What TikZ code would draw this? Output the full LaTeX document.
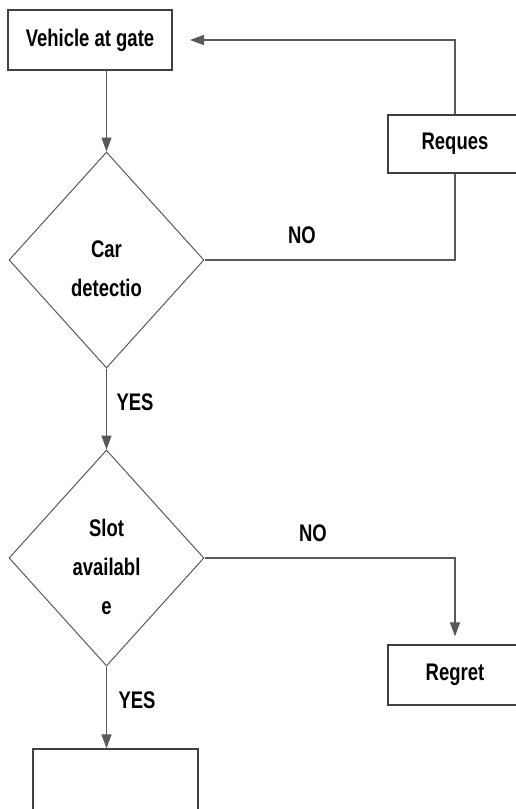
\documentclass[tikz,border=0pt]{standalone}
\usepackage{fontspec}
\setmainfont{Liberation Sans}[FakeStretch=0.77]
\usetikzlibrary{shapes.geometric,arrows.meta}

\begin{document}
\begin{tikzpicture}[x=1pt,y=-1pt,line width=1.3pt,font=\fontsize{24}{39}\selectfont\bfseries]
    %
    % `block' is used for the plain boxes.
    % `decision' is used for the two diamonds.
    % `flow' and `arrow' are used for the connectors.
    \tikzstyle{block} = [draw=black!75,fill=white,inner sep=0pt]
    \tikzstyle{decision} = [draw=black!65,line width=1pt,shape=diamond,minimum width=195pt,minimum height=216pt,inner sep=0pt,align=center]
    \tikzstyle{flow} = [draw=black!65]
    \tikzstyle{arrow} = [flow,-{Triangle[length=14pt,width=10pt]}]
    \tikzstyle{answer} = [inner sep=0pt]
    \useasboundingbox (0,0) rectangle (516,809);
    %
    % Boxes
    \node[block,minimum width=164pt,minimum height=60pt] (gate) at (90,40) {Vehicle at gate};
    \node[block,minimum width=134pt,minimum height=58pt] (request) at (455,144) {Reques};
    \node[block,minimum width=134pt,minimum height=60pt] (regret) at (455,675) {Regret};
    \node[block,minimum width=165pt,minimum height=80pt] (park) at (115.5,789) {};
    %
    % Decisions
    \node[decision] (car) at (106.5,260) {\rule{0pt}{35pt}Car\\detectio};
    \node[decision] (slot) at (106.5,558) {\rule{0pt}{35pt}Slot\\availabl\\e};
    %
    % Answers
    \node[answer] (no1) at (302,235) {NO};
    \node[answer] (yes1) at (135,402) {YES};
    \node[answer] (no2) at (313,533) {NO};
    \node[answer] (yes2) at (137,700) {YES};
    %
    % Connectors
    \coordinate (back) at (190,40);
    \draw[arrow] (car.north |- gate.south) -- (car.north);
    \draw[flow] (car.east) -| (request.south);
    \draw[arrow] (request.north) |- (back);
    \draw[arrow] (car.south) -- (slot.north);
    \draw[arrow,shorten >=8pt] (slot.east) -| (regret.north);
    \draw[arrow] (slot.south) -- (slot.south |- park.north);
    %
\end{tikzpicture}
\end{document}
